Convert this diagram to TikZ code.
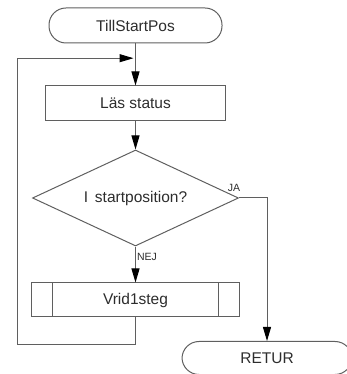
\documentclass[tikz,border=0pt]{standalone}
\usepackage{fontspec}
\setmainfont{Liberation Sans}
\usepackage{tikz}
\usetikzlibrary{shapes,arrows.meta,positioning,calc}
\definecolor{flowline}{RGB}{95,95,95}
\definecolor{flowtext}{RGB}{45,45,45}

\begin{document}
\begin{tikzpicture}[x=1pt, y=1pt, font=\fontsize{15.5}{17}\selectfont,
    draw=flowline, line width=1pt,
    flowarrow/.style={-{Triangle[length=14pt, width=8pt, color=black]}},
    terminal/.style={rectangle, draw=flowline, text=flowtext, rounded corners=17pt, minimum height=35pt, inner sep=0pt},
    procbox/.style={rectangle, draw=flowline, text=flowtext, minimum height=35pt, inner sep=0pt},
    subproc/.style={rectangle, draw=flowline, text=flowtext, minimum height=34pt, inner sep=0pt,
      path picture={
        \draw[flowline] ([xshift=21pt]path picture bounding box.north west) -- ([xshift=21pt]path picture bounding box.south west);
        \draw[flowline] ([xshift=-21pt]path picture bounding box.north east) -- ([xshift=-21pt]path picture bounding box.south east);
      }},
    decision/.style={diamond, aspect=2.15, draw=flowline, text=flowtext, minimum width=206pt, minimum height=96pt, inner sep=0pt},
    branchlabel/.style={font=\fontsize{10.5}{12}\selectfont, text=flowtext, inner sep=1pt}]
  \useasboundingbox (0,0) rectangle (347,374);

  \node[terminal, minimum width=173pt] (start) at (135.5,348.5) {TillStartPos};
  \node[procbox, minimum width=180pt, below=42pt of start] (status) {Läs status};
  \node[decision, below=28pt of status] (atstart) {I\, startposition?};
  \node[subproc, minimum width=208pt, below=36pt of atstart] (step) {Vrid1steg};
  \node[terminal, minimum width=170pt, minimum height=33pt] (retur) at (267,16) {RETUR};

  % loop back above the status read
  \coordinate (loopin) at ($(start.south)!0.35!(status.north)$);
  \coordinate (loopbottom) at ($(step.south)+(0,-27)$);
  \coordinate (loopleft) at (17,0);

  \draw[flowline, flowarrow] (start) -- (status);
  \draw[flowline, flowarrow] (status) -- (atstart);
  \draw[flowline, flowarrow] (atstart) -- node[branchlabel, pos=0.3, right] {NEJ} (step);
  \draw[flowline, flowarrow] (atstart.east) -- (retur.north |- atstart.east) -- (retur);
  \node[branchlabel, above=5pt of atstart.east, xshift=-5pt] (ja) {JA};
  \draw[flowline, flowarrow] (step) -- (loopbottom) -- (loopleft |- loopbottom) -- (loopleft |- loopin) -- ([xshift=-2pt]loopin);
\end{tikzpicture}
\end{document}
